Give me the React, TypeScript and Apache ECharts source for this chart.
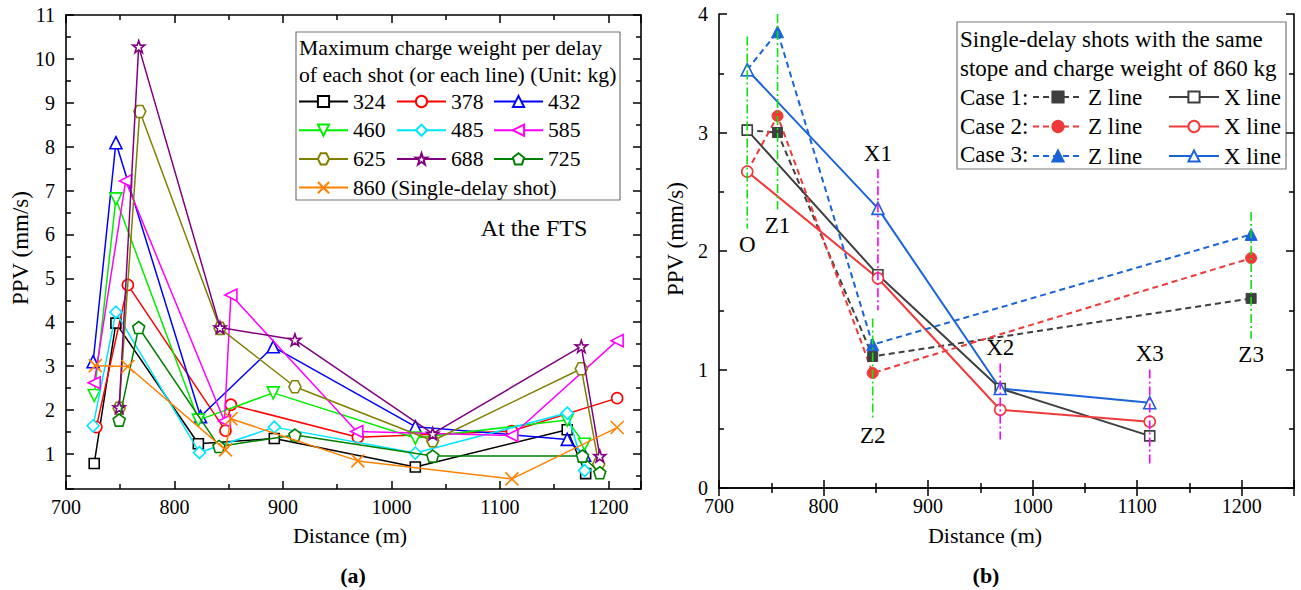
import React, { useEffect, useRef } from 'react';
import * as echarts from 'echarts';

// ---------- Data: chart (a) ----------
const leftNames = ['324', '378', '432', '460', '485', '585', '625', '688', '725', '860 (Single-delay shot)'];
const ppv324 = [[726, 0.78], [746, 3.98], [822, 1.23], [892, 1.35], [1022, 0.7], [1162, 1.55], [1179, 0.55]];
const ppv378 = [[728, 1.61], [757, 4.85], [847, 1.53], [852, 2.12], [969, 1.38], [1111, 1.52], [1208, 2.27]];
const ppv432 = [[725, 3.1], [746, 8.09], [824, 1.85], [891, 3.44], [1022, 1.62], [1162, 1.33], [1178, 0.97]];
const ppv460 = [[726, 2.33], [746, 6.81], [822, 1.77], [891, 2.39], [1022, 1.36], [1162, 1.77], [1178, 1.22]];
const ppv485 = [[725, 1.64], [746, 4.23], [823, 1.03], [892, 1.61], [1022, 1.02], [1162, 1.93], [1178, 0.62]];
const ppv585 = [[726, 2.62], [755, 7.22], [846, 1.75], [852, 4.62], [968, 1.51], [1111, 1.42], [1208, 3.58]];
const ppv625 = [[749, 2.04], [768, 8.8], [842, 3.86], [911, 2.53], [1038, 1.3], [1175, 2.94], [1191, 0.77]];
const ppv688 = [[749, 2.06], [767, 10.28], [842, 3.88], [911, 3.6], [1038, 1.46], [1175, 3.45], [1192, 0.95]];
const ppv725 = [[749, 1.77], [767, 3.88], [841, 1.17], [911, 1.43], [1038, 0.95], [1176, 0.95], [1192, 0.57]];
const ppv860 = [[727, 3.01], [757, 2.99], [847, 1.09], [852, 1.8], [969, 0.84], [1111, 0.43], [1208, 1.6]];
const leftData = [ppv324, ppv378, ppv432, ppv460, ppv485, ppv585, ppv625, ppv688, ppv725, ppv860];

// ---------- Data: chart (b) ----------
const rightNames = ['Case 1 Z line', 'Case 1 X line', 'Case 2 Z line', 'Case 2 X line', 'Case 3 Z line', 'Case 3 X line'];
const case1Z = [[727, 3.02], [756, 3.0], [847, 1.11], [1209, 1.6]];
const case1X = [[727, 3.02], [852, 1.8], [969, 0.84], [1112, 0.44]];
const case2Z = [[727, 2.67], [756, 3.14], [847, 0.97], [1209, 1.94]];
const case2X = [[727, 2.67], [852, 1.77], [969, 0.66], [1112, 0.56]];
const case3Z = [[727, 3.53], [756, 3.85], [847, 1.21], [1209, 2.14]];
const case3X = [[727, 3.53], [852, 2.36], [969, 0.84], [1112, 0.72]];
const rightData = [case1Z, case1X, case2Z, case2X, case3Z, case3X];

const refNames = ['O', 'Z1', 'X1', 'Z2', 'X2', 'X3', 'Z3'];
const refX = [727, 756, 852, 847, 969, 1112, 1209];
const refTop = [3.81, 4.0, 2.69, 1.43, 1.05, 1.0, 2.33];
const refBottom = [2.19, 2.35, 1.5, 0.58, 0.41, 0.2, 1.26];
const refLabelBelow = [true, true, false, true, false, false, true];

// ---------- Styles ----------
const FONT = 'Liberation Serif';
const leftColors = ['#000000', '#ff0000', '#0000ff', '#00ee00', '#00e5ff', '#ff00ff', '#808000', '#800080', '#008000', '#ff8000'];
const HEX = 'path://M2.5,0L7.5,0L10,4.33L7.5,8.66L2.5,8.66L0,4.33Z';
const STAR = 'path://M50,0L61.8,35.1L97.6,34.5L69,56.5L79.4,90.5L50,70L20.6,90.5L31,56.5L2.4,34.5L38.2,35.1Z';
const PENT = 'path://M50,0L97.6,34.5L79.4,90.5L20.6,90.5L2.4,34.5Z';
const CROSS = 'path://M0,0L10,10M10,0L0,10';
const leftSymbols = ['rect', 'circle', 'triangle', 'triangle', 'diamond', 'triangle', HEX, STAR, PENT, CROSS];
const leftRot = [0, 0, 0, 180, 0, 90, 0, 0, 0, 0];
const leftSizes = [10, 11, 12, 12, 12, 12, 12, 12, 12, 13];

const rightColors = ['#3f3f3f', '#3f3f3f', '#f03a3a', '#f03a3a', '#1a63d8', '#1a63d8'];
const rightSymbols = ['rect', 'rect', 'circle', 'circle', 'triangle', 'triangle'];
const rightSizes = [10, 10, 11, 11, 12, 12];

export default function App() {
  const ref = useRef<HTMLDivElement>(null);
  useEffect(() => {
    if (!ref.current) return;
    const chart = echarts.init(ref.current, undefined, { renderer: 'svg' });

    const axisLine = { show: true, lineStyle: { color: '#000', width: 1.6 } };
    const tick = { show: true, inside: true, length: 8, lineStyle: { color: '#000', width: 1.5 } };
    const minor = { show: true, splitNumber: 2, length: 5, lineStyle: { color: '#000', width: 1.5 } };
    const label = { fontFamily: FONT, fontSize: 20, color: '#000' };

    const xAxisBase = (grid: number, min: number, max: number, pos: string, showLabel: boolean) => ({
      type: 'value', gridIndex: grid, min, max, interval: 100, position: pos,
      axisLine, axisTick: tick, minorTick: minor, splitLine: { show: false },
      axisLabel: {
        show: showLabel, ...label, margin: 8,
        formatter: (v: number) => (v % 100 === 0 ? String(v) : ''),
      },
    });

    const yLeftBase = (pos: string, showLabel: boolean) => ({
      type: 'value', gridIndex: 0, min: 0.2, max: 11, splitNumber: 10, position: pos,
      axisLine, axisTick: tick, minorTick: minor, splitLine: { show: false },
      axisLabel: {
        show: showLabel, ...label, margin: 11,
        formatter: (v: number) => (Math.abs(v - Math.round(v)) < 1e-6 ? String(Math.round(v)) : ''),
      },
    });
    const yRightBase = (pos: string, showLabel: boolean) => ({
      type: 'value', gridIndex: 1, min: 0, max: 4, interval: 1, position: pos,
      axisLine, axisTick: tick, minorTick: minor, splitLine: { show: false },
      axisLabel: { show: showLabel, ...label, margin: 11 },
    });

    const series: any[] = [];
    leftData.forEach((d, i) => {
      const c = leftColors[i];
      series.push({
        type: 'line', name: leftNames[i], xAxisIndex: 0, yAxisIndex: 0, data: d,
        color: c, symbol: leftSymbols[i], symbolRotate: leftRot[i], symbolSize: leftSizes[i],
        showSymbol: true,
        lineStyle: { color: c, width: 1.5 },
        itemStyle: { color: '#fff', borderColor: c, borderWidth: 1.6 },
        z: 2 + i,
      });
    });
    rightData.forEach((d, i) => {
      const c = rightColors[i];
      const isZ = i % 2 === 0;
      series.push({
        type: 'line', name: rightNames[i], xAxisIndex: 2, yAxisIndex: 2, data: d,
        color: c, symbol: rightSymbols[i], symbolSize: rightSizes[i],
        lineStyle: { color: c, width: 2, type: isZ ? [6, 4] : 'solid' },
        itemStyle: isZ ? { color: c, borderColor: c, borderWidth: 1 } : { color: '#fff', borderColor: c, borderWidth: 1.6 },
        z: 3,
      });
    });
    refNames.forEach((n, i) => {
      const c = n.startsWith('X') ? '#ff00ff' : '#11e011';
      const below = refLabelBelow[i];
      const lbl = {
        show: true, formatter: n, position: below ? 'bottom' : 'top', distance: 4,
        fontFamily: FONT, fontSize: 23, color: '#000',
      };
      series.push({
        type: 'line', name: 'ref ' + n, xAxisIndex: 2, yAxisIndex: 2,
        symbol: 'circle', symbolSize: 1, itemStyle: { color: 'rgba(0,0,0,0)' },
        lineStyle: { color: c, width: 1.6, type: [9, 3, 2, 3] },
        data: [
          { value: [refX[i], refTop[i]], label: below ? { show: false } : lbl },
          { value: [refX[i], refBottom[i]], label: below ? lbl : { show: false } },
        ],
        z: 10,
      });
    });

    const legendText = { fontFamily: FONT, fontSize: 21.7, color: '#000', lineHeight: 21 };
    const leftLegend = (data: string[], left: number) => ({
      orient: 'vertical', left, top: 90.5, padding: 0, itemGap: 6.7,
      itemWidth: 49, itemHeight: 14, selectedMode: false, textStyle: legendText, data,
    });
    const rLegendText = { fontFamily: FONT, fontSize: 23, color: '#000', lineHeight: 22 };
    const rightLegend = (data: string[], left: number) => ({
      orient: 'vertical', left, top: 85.5, padding: 0, itemGap: 6.5,
      itemWidth: 50, itemHeight: 14, selectedMode: false, textStyle: rLegendText, data,
      formatter: (name: string) => name.split(' ').slice(2).join(' '),
    });

    const txt = (text: string, x: number, y: number, size: number, extra: any = {}) => ({
      type: 'text', x, y, ...extra,
      style: { text, fontFamily: FONT, fontSize: size, fill: '#000', align: 'center', verticalAlign: 'middle', ...(extra.style || {}) },
    });

    chart.setOption({
      animation: false,
      backgroundColor: '#fff',
      grid: [
        { left: 66, top: 15, width: 575, height: 474 },
        { left: 719, top: 14, width: 575, height: 474 },
      ],
      xAxis: [
        xAxisBase(0, 700, 1230, 'bottom', true),
        xAxisBase(0, 700, 1230, 'top', false),
        xAxisBase(1, 700, 1250, 'bottom', true),
        xAxisBase(1, 700, 1250, 'top', false),
      ],
      yAxis: [
        yLeftBase('left', true),
        yLeftBase('right', false),
        yRightBase('left', true),
        yRightBase('right', false),
      ],
      legend: [
        leftLegend([leftNames[0], leftNames[3], leftNames[6], leftNames[9]], 298),
        leftLegend([leftNames[1], leftNames[4], leftNames[7]], 396),
        leftLegend([leftNames[2], leftNames[5], leftNames[8]], 493),
        rightLegend([rightNames[0], rightNames[2], rightNames[4]], 1032),
        rightLegend([rightNames[1], rightNames[3], rightNames[5]], 1168),
      ],
      graphic: [
        { type: 'rect', shape: { x: 296, y: 32, width: 324, height: 168 }, style: { fill: 'rgba(0,0,0,0)', stroke: '#777', lineWidth: 1.2 }, z: 0 },
        { type: 'rect', shape: { x: 957, y: 22, width: 329, height: 147 }, style: { fill: '#fff', stroke: '#777', lineWidth: 1.2 }, z: 0 },
        txt('Maximum charge weight per delay', 299, 48, 21.7, { style: { align: 'left' } }),
        txt('of each shot (or each line) (Unit: kg)', 299, 75, 21.7, { style: { align: 'left' } }),
        txt('At the FTS', 534, 228, 24),
        txt('Single-delay shots with the same', 960, 39, 23, { style: { align: 'left' } }),
        txt('stope and charge weight of 860 kg', 960, 68, 23, { style: { align: 'left' } }),
        txt('Case 1:', 960, 97, 23, { style: { align: 'left' } }),
        txt('Case 2:', 960, 126, 23, { style: { align: 'left' } }),
        txt('Case 3:', 960, 154, 23, { style: { align: 'left' } }),
        txt('PPV (mm/s)', 20, 248, 23, { rotation: Math.PI / 2 }),
        txt('PPV (mm/s)', 675, 239, 23, { rotation: Math.PI / 2 }),
        txt('Distance (m)', 350, 535, 22),
        txt('Distance (m)', 985, 535, 22),
        txt('(a)', 353, 575, 22, { style: { fontWeight: 'bold' } }),
        txt('(b)', 986, 575, 22, { style: { fontWeight: 'bold' } }),
      ],
      series,
    });
    return () => chart.dispose();
  }, []);
  return <div ref={ref} style={{ position: 'absolute', left: 0, top: 0, width: 1301, height: 590 }} />;
}
